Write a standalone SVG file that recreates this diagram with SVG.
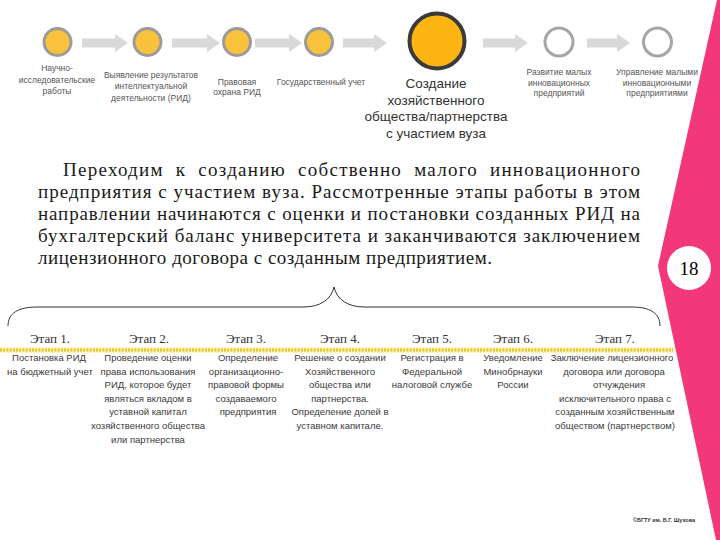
<svg xmlns="http://www.w3.org/2000/svg" width="720" height="540" viewBox="0 0 720 540">
<defs>
<style>
.bg{fill:#ffffff}
.arrow{fill:#d9d9d9}
.dot{fill:#f9c23c;stroke:#9b9b9b;stroke-width:3}
.hollow{fill:#ffffff;stroke:#a6a6a6;stroke-width:3}
.big{fill:#fdb514;stroke:#3a3a3a;stroke-width:4}
.lbl{font-family:"Liberation Sans",Arial,sans-serif;font-size:8.5px;fill:#555;text-anchor:middle}
.biglbl{font-family:"Liberation Sans",Arial,sans-serif;font-size:13.5px;fill:#333;text-anchor:middle}
.para{font-family:"Liberation Serif","Times New Roman",serif;font-size:19px;fill:#1a1a1a}
.hdr{font-family:"Liberation Serif","Times New Roman",serif;font-size:13px;fill:#333;text-anchor:middle}
.desc{font-family:"Liberation Sans",Arial,sans-serif;font-size:9.5px;fill:#3a3a3a;text-anchor:middle}
.brace{fill:none;stroke:#333;stroke-width:1}
</style>
</defs>
<rect class="bg" x="0" y="0" width="720" height="540"/>
<polygon points="717,0 658,266 716,540 720,540 720,0" fill="#f2387b"/>
<g id="page-number">
<circle cx="689" cy="268" r="22" fill="#ffffff"/>
<text x="689" y="275" font-family="Liberation Serif,serif" font-size="19" fill="#000" text-anchor="middle">18</text>
</g>
<g id="connectors">
<polygon class="arrow" points="82,38.5 115,38.5 115,34 128,43 115,52 115,47.5 82,47.5"/>
<polygon class="arrow" points="172,38.5 207,38.5 207,34 220,43 207,52 207,47.5 172,47.5"/>
<polygon class="arrow" points="255,38.5 289,38.5 289,34 302,43 289,52 289,47.5 255,47.5"/>
<polygon class="arrow" points="343,38.5 374,38.5 374,34 387,43 374,52 374,47.5 343,47.5"/>
<polygon class="arrow" points="483,38.5 515,38.5 515,34 528,43 515,52 515,47.5 483,47.5"/>
<polygon class="arrow" points="587,38.5 617,38.5 617,34 630,43 617,52 617,47.5 587,47.5"/>
</g>
<g id="node1">
<circle class="dot" cx="57.5" cy="42" r="13.5"/>
<text class="lbl" x="57" y="71">Научно-</text>
<text class="lbl" x="57" y="83">исследовательские</text>
<text class="lbl" x="57" y="94">работы</text>
</g>
<g id="node2">
<circle class="dot" cx="147.5" cy="42" r="13.5"/>
<text class="lbl" x="151" y="78">Выявление результатов</text>
<text class="lbl" x="151" y="89">интеллектуальной</text>
<text class="lbl" x="151" y="101">деятельности (РИД)</text>
</g>
<g id="node3">
<circle class="dot" cx="237" cy="42" r="13.5"/>
<text class="lbl" x="237" y="85">Правовая</text>
<text class="lbl" x="237" y="95">охрана РИД</text>
</g>
<g id="node4">
<circle class="dot" cx="319" cy="42" r="13.5"/>
<text class="lbl" x="321" y="85">Государственный учет</text>
</g>
<g id="node5">
<circle class="big" cx="437" cy="41" r="27.5"/>
<text class="biglbl" x="436" y="88">Создание</text>
<text class="biglbl" x="436" y="105">хозяйственного</text>
<text class="biglbl" x="436" y="121">общества/партнерства</text>
<text class="biglbl" x="436" y="138">с участием вуза</text>
</g>
<g id="node6">
<circle class="hollow" cx="559" cy="42" r="14"/>
<text class="lbl" x="559" y="75">Развитие малых</text>
<text class="lbl" x="559" y="86">инновационных</text>
<text class="lbl" x="559" y="96">предприятий</text>
</g>
<g id="node7">
<circle class="hollow" cx="657.5" cy="42" r="14"/>
<text class="lbl" x="657" y="75">Управление малыми</text>
<text class="lbl" x="657" y="86">инновационными</text>
<text class="lbl" x="657" y="96">предприятиями</text>
</g>
<g id="paragraph">
<text class="para" x="63" y="176" textLength="577" lengthAdjust="spacing" word-spacing="6">Переходим к созданию собственно малого инновационного</text>
<text class="para" x="38" y="198" textLength="602" lengthAdjust="spacing">предприятия с участием вуза. Рассмотренные этапы работы в этом</text>
<text class="para" x="38" y="220" textLength="602" lengthAdjust="spacing">направлении начинаются с оценки и постановки созданных РИД на</text>
<text class="para" x="38" y="242" textLength="602" lengthAdjust="spacing">бухгалтерский баланс университета и заканчиваются заключением</text>
<text class="para" x="38" y="264" textLength="454" lengthAdjust="spacing">лицензионного договора с созданным предприятием.</text>
</g>
<path id="brace" class="brace" d="M8,326 C8,313 18,307 38,307 L303,307 C320,307 331,300 334,287 C337,300 348,307 365,307 L632,307 C650,307 660,313 660,326"/>
<g id="stage-line">
<rect x="0" y="347" width="675" height="6" fill="#fcf6c6"/>
<line x1="0" y1="350" x2="673" y2="350" stroke="#e8c51a" stroke-width="3" stroke-dasharray="2,1.2"/>
</g>
<g id="stage1">
<text class="hdr" x="50" y="343">Этап 1.</text>
<text class="desc" x="49" y="361">Постановка РИД</text>
<text class="desc" x="50" y="374.6">на бюджетный учет</text>
</g>
<g id="stage2">
<text class="hdr" x="149" y="343">Этап 2.</text>
<text class="desc" x="148" y="361">Проведение оценки</text>
<text class="desc" x="148" y="374.6">права использования</text>
<text class="desc" x="148" y="388.2">РИД, которое будет</text>
<text class="desc" x="148" y="401.8">являться вкладом в</text>
<text class="desc" x="148" y="415.4">уставной капитал</text>
<text class="desc" x="148" y="429">хозяйственного общества</text>
<text class="desc" x="148" y="442.6">или партнерства</text>
</g>
<g id="stage3">
<text class="hdr" x="246" y="343">Этап 3.</text>
<text class="desc" x="248" y="361">Определение</text>
<text class="desc" x="246" y="374.6">организационно-</text>
<text class="desc" x="246" y="388.2">правовой формы</text>
<text class="desc" x="246" y="401.8">создаваемого</text>
<text class="desc" x="248" y="415.4">предприятия</text>
</g>
<g id="stage4">
<text class="hdr" x="340" y="343">Этап 4.</text>
<text class="desc" x="340" y="361">Решение о создании</text>
<text class="desc" x="340" y="374.6">Хозяйственного</text>
<text class="desc" x="340" y="388.2">общества или</text>
<text class="desc" x="340" y="401.8">партнерства.</text>
<text class="desc" x="340" y="415.4">Определение долей в</text>
<text class="desc" x="340" y="429">уставном капитале.</text>
</g>
<g id="stage5">
<text class="hdr" x="432" y="343">Этап 5.</text>
<text class="desc" x="432" y="361">Регистрация в</text>
<text class="desc" x="432" y="374.6">Федеральной</text>
<text class="desc" x="432" y="388.2">налоговой службе</text>
</g>
<g id="stage6">
<text class="hdr" x="513" y="343">Этап 6.</text>
<text class="desc" x="513" y="361">Уведомление</text>
<text class="desc" x="513" y="374.6">Минобрнауки</text>
<text class="desc" x="513" y="388.2">России</text>
</g>
<g id="stage7">
<text class="hdr" x="615" y="343">Этап 7.</text>
<text class="desc" x="612" y="361">Заключение лицензионного</text>
<text class="desc" x="614" y="374.6">договора или договора</text>
<text class="desc" x="619" y="388.2">отчуждения</text>
<text class="desc" x="615" y="401.8">исключительного права с</text>
<text class="desc" x="615" y="415.4">созданным хозяйственным</text>
<text class="desc" x="615" y="429">обществом (партнерством)</text>
</g>
<text x="664" y="522" font-family="Liberation Sans,Arial,sans-serif" font-size="5.5" font-weight="bold" fill="#333" text-anchor="middle">©БГТУ им. В.Г. Шухова</text>
</svg>
